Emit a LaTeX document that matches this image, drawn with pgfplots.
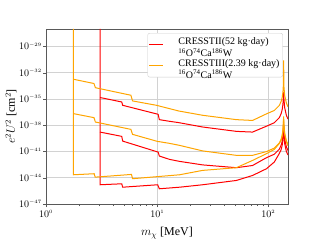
\documentclass[border=0pt]{standalone}
\usepackage{fontspec}
\setmainfont{Liberation Serif}
\usepackage{pgfplots}
\pgfplotsset{compat=1.18}
\definecolor{cred}{RGB}{255,0,0}
\definecolor{corange}{RGB}{255,165,0}
\newcommand{\tl}[1]{$10^{\scriptscriptstyle #1}$}
\begin{document}
\begin{tikzpicture}
\begin{axis}[
  scale only axis, width=242pt, height=175pt,
  xmode=log, ymode=log,
  xmin=1, xmax=150, ymin=1e-47, ymax=1e-27,
  xtick={1,10,100},
  xticklabels={\tl{0},\tl{1},\tl{2}},
  ytick={1e-47,1e-44,1e-41,1e-38,1e-35,1e-32,1e-29},
  yticklabels={\tl{-47},\tl{-44},\tl{-41},\tl{-38},\tl{-35},\tl{-32},\tl{-29}},
  yminorticks=false,
  grid=major, major grid style={gray!35, line width=0.6pt},
  tick align=outside, tick pos=left, major tick length=3pt, minor tick length=2pt,
  yticklabel style={inner xsep=1pt},
  axis line style={black!65},
  every tick/.style={black!65},
  xlabel={$m_\chi$ [MeV]},
  ylabel={$e^2U^2$ [cm$^2$]},
  label style={font=\large},
  xlabel style={at={(axis description cs:0.5,-0.166)}, anchor=center},
  ylabel style={yshift=-2pt},
  legend cell align=left,
  legend image code/.code={\draw[#1, draw=none, fill=none] (0pt,0pt) -- (27pt,0pt); \draw[#1] (0pt,0pt) -- (14pt,0pt);},
  legend style={at={(axis description cs:0.979,0.977)}, anchor=north east,
    draw=black!20, fill=white, row sep=1.5pt,
    rounded corners=2pt, font=\normalsize, inner sep=1.2pt},
]
\coordinate (ll) at (rel axis cs:0,0);
\coordinate (ur) at (rel axis cs:1,1);
% ---- CRESSTII (red) ----
\addplot[color=cred, line width=1pt] coordinates {
(3.06,1e-27) (3.06,1.58e-45) (4.80,2.04e-45) (4.89,8.32e-46) (10.1,1.58e-45)
(10.45,5.50e-46) (15.9,8.32e-46) (25.6,1.58e-45) (51.5,4.90e-45) (72,1.82e-44)
(96,1.07e-43) (113,6.31e-43) (125,5.62e-42) (130,1.58e-41) (133,5.01e-41)
(135,2.00e-40) (136.2,1.26e-39) (137,3.98e-39) (138,7.94e-40) (140,7.94e-41)
(145,1e-41) (150,3.98e-42)};
\addlegendentry{\begin{tabular}{@{}l@{}}CRESSTII(52 kg·day)\\\textsuperscript{16}O\textsuperscript{74}Ca\textsuperscript{186}W\end{tabular}}
\addplot[color=cred, line width=1pt, forget plot] coordinates {
(3.06,1.66e-39) (4.80,5.37e-40) (4.89,1.55e-40) (10.2,8.51e-42) (10.45,3.02e-42)
(12.9,1.26e-42) (15.9,7.41e-43) (25.6,2.95e-43) (51.5,1.41e-43) (72,2.51e-43)
(96,1.95e-42) (113,4.90e-42) (125,1.78e-41) (130,5.01e-41) (133,1.51e-40)
(135,5.89e-40) (136.2,3.72e-39) (137,1.26e-38) (138,2.34e-39) (140,2.57e-40)
(145,3.47e-41) (150,1.26e-41)};
\addplot[color=cred, line width=1pt, forget plot] coordinates {
(3.06,1.48e-35) (4.80,4.57e-36) (4.89,1.91e-36) (10.2,1.78e-37) (10.45,4.37e-38)
(12.9,2.82e-38) (15.6,2.00e-38) (25.6,6.31e-39) (51.5,2.00e-39) (72,1.66e-39)
(96,7.76e-39) (113,1.95e-38) (125,7.08e-38) (130,2.00e-37) (133,6.03e-37)
(135,2.34e-36) (136.2,1.48e-35) (137,6.31e-35) (138,9.33e-36) (140,1.02e-36)
(145,1.38e-37) (150,5.01e-38)};
% ---- CRESSTIII (orange) ----
\addplot[color=corange, line width=1pt] coordinates {
(1.76,1e-27) (1.76,2.19e-44) (2.71,2.88e-44) (2.77,1.17e-44) (5.87,2.40e-44)
(6.0,7.76e-45) (15.9,2.19e-44) (25.6,6.92e-44) (51.5,1.41e-43) (72,9.55e-43)
(96,5.62e-42) (113,1.74e-41) (125,7.94e-41) (130,1.78e-40) (133,5.37e-40)
(135,2.09e-39) (136.2,1.32e-38) (137,5.01e-38) (138,8.32e-39) (140,9.12e-40)
(145,1.23e-40) (150,4.47e-41)};
\addlegendentry{\begin{tabular}{@{}l@{}}CRESSTIII(2.39 kg·day)\\\textsuperscript{16}O\textsuperscript{74}Ca\textsuperscript{186}W\end{tabular}}
\addplot[color=corange, line width=1pt, forget plot] coordinates {
(1.76,2.14e-37) (2.70,7.41e-38) (2.78,2.34e-38) (5.8,3.39e-39) (6.0,9.12e-40)
(10,1.45e-40) (12.9,8.51e-41) (15.9,5.01e-41) (25.6,1.17e-41) (51.5,3.63e-42)
(72,3.63e-42) (96,9.77e-42) (113,2.45e-41) (125,8.91e-41) (130,2.51e-40)
(133,7.59e-40) (135,2.95e-39) (136.2,1.86e-38) (137,1e-37) (138,1.17e-38)
(140,1.29e-39) (145,1.74e-40) (150,6.31e-41)};
\addplot[color=corange, line width=1pt, forget plot] coordinates {
(1.76,1.82e-33) (2.70,5.89e-34) (2.78,1.95e-34) (5.8,2.69e-35) (6.0,6.03e-36)
(9.84,1.91e-36) (15.6,4.27e-37) (25.6,1.38e-37) (51.5,4.37e-38) (72,3.55e-38)
(96,2.00e-37) (113,4.90e-37) (125,1.78e-36) (130,5.01e-36) (133,1.51e-35)
(135,5.89e-35) (136.2,3.72e-34) (137,2.51e-31) (138,2.34e-34) (140,2.57e-35)
(145,3.47e-36) (150,1.26e-36)};
\end{axis}
\path ([shift={(-46pt,-36pt)}]ll) rectangle ([shift={(32pt,29pt)}]ur);
\end{tikzpicture}
\end{document}
